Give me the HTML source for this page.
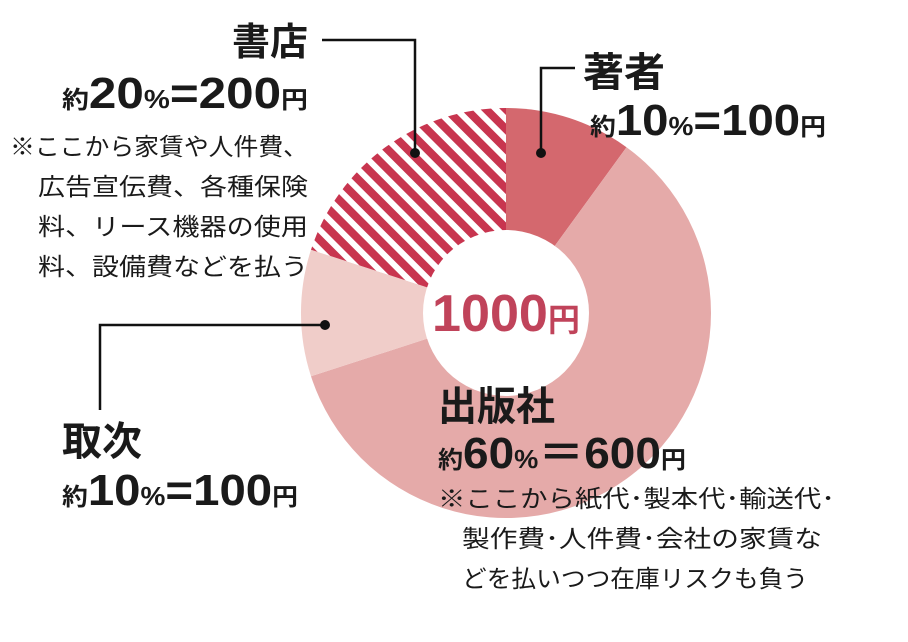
<!DOCTYPE html>
<html><head><meta charset="utf-8">
<style>
html,body{margin:0;padding:0;background:#fff;}
svg{display:block;}
text{font-family:"Liberation Sans","Noto Sans CJK JP",sans-serif;}
.b{font-weight:bold;fill:#1a1a1a;}
.n{fill:#1a1a1a;font-size:24px;}
</style></head><body>
<svg width="908" height="642" viewBox="0 0 908 642" xmlns="http://www.w3.org/2000/svg">
<defs>
<pattern id="st" patternUnits="userSpaceOnUse" width="14" height="14" patternTransform="rotate(-45)">
<rect width="14" height="14" fill="#fff"/>
<rect width="8" height="14" fill="#c8354f"/>
</pattern>
</defs>
<g transform="translate(506,313)">
<path d="M0,-205 A205,205 0 0 1 120.5,-165.8 L0,0Z" fill="#d4686e"/>
<path d="M120.5,-165.8 A205,205 0 1 1 -195,63.3 L0,0Z" fill="#e5aaa9"/>
<path d="M-195,63.3 A205,205 0 0 1 -195,-63.3 L0,0Z" fill="#f0cdc9"/>
<path d="M-195,-63.3 A205,205 0 0 1 0,-205 L0,0Z" fill="url(#st)"/>
<circle r="83" fill="#fff"/>
<text x="-74" y="18" textLength="148" lengthAdjust="spacingAndGlyphs" font-size="52" font-weight="bold" fill="#c0435a">1000<tspan font-size="32">円</tspan></text>
</g>
<g stroke="#111" stroke-width="2.5" fill="none">
<polyline points="322,40 415,40 415,153"/>
<polyline points="541,153 541,68 575,68"/>
<polyline points="325,325 100,325 100,410"/>
</g>
<g fill="#111"><circle cx="415" cy="153" r="5"/><circle cx="541" cy="153" r="5"/><circle cx="325" cy="325" r="5"/></g>
<!-- 書店 -->
<text x="232" y="55" textLength="76" lengthAdjust="spacingAndGlyphs" class="b" font-size="38">書店</text>
<text x="62" y="108" textLength="246" lengthAdjust="spacingAndGlyphs" class="b" font-size="44"><tspan font-size="24">約</tspan>20<tspan font-size="26">%</tspan>=200<tspan font-size="24">円</tspan></text>
<text x="10" y="155" textLength="298" lengthAdjust="spacingAndGlyphs" class="n">※ここから家賃や人件費、</text>
<text x="38" y="195" textLength="270" lengthAdjust="spacingAndGlyphs" class="n">広告宣伝費、各種保険</text>
<text x="38" y="235" textLength="270" lengthAdjust="spacingAndGlyphs" class="n">料、リース機器の使用</text>
<text x="38" y="275" textLength="270" lengthAdjust="spacingAndGlyphs" class="n">料、設備費などを払う</text>
<!-- 著者 -->
<text x="583" y="86" textLength="82" lengthAdjust="spacingAndGlyphs" class="b" font-size="40">著者</text>
<text x="590" y="135" textLength="236" lengthAdjust="spacingAndGlyphs" class="b" font-size="44"><tspan font-size="24">約</tspan>10<tspan font-size="26">%</tspan>=100<tspan font-size="24">円</tspan></text>
<!-- 取次 -->
<text x="62" y="455" textLength="80" lengthAdjust="spacingAndGlyphs" class="b" font-size="40">取次</text>
<text x="62" y="505" textLength="236" lengthAdjust="spacingAndGlyphs" class="b" font-size="44"><tspan font-size="24">約</tspan>10<tspan font-size="26">%</tspan>=100<tspan font-size="24">円</tspan></text>
<!-- 出版社 -->
<text x="438" y="420" textLength="117" lengthAdjust="spacingAndGlyphs" class="b" font-size="40">出版社</text>
<text x="438" y="468" textLength="248" lengthAdjust="spacingAndGlyphs" class="b" font-size="44"><tspan font-size="24">約</tspan>60<tspan font-size="26">%</tspan>＝600<tspan font-size="24">円</tspan></text>
<text x="438" y="507" textLength="397" lengthAdjust="spacingAndGlyphs" class="n">※ここから紙代･製本代･輸送代･</text>
<text x="462" y="547" textLength="360" lengthAdjust="spacingAndGlyphs" class="n">製作費･人件費･会社の家賃な</text>
<text x="462" y="587" textLength="346" lengthAdjust="spacingAndGlyphs" class="n">どを払いつつ在庫リスクも負う</text>
</svg>
</body></html>
